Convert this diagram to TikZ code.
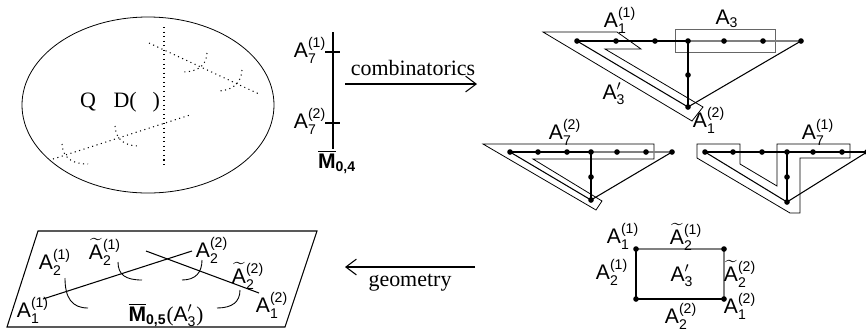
\documentclass[tikz,border=0pt]{standalone}
\usepackage{amsmath}
\usepackage{fontspec}
\setmainfont{Liberation Serif}
\setsansfont{Liberation Sans}
\usetikzlibrary{arrows.meta,positioning,calc}

\newcommand{\lA}[2]{$\textsf{A}_{\textsf{#1}}^{\textsf{#2}}$}
\newcommand{\tA}[2]{${\vphantom{\textsf{A}}\smash{\widetilde{\textsf{A}}}}_{\textsf{#1}}^{\textsf{#2}}$}
\newcommand{\pA}{$\textsf{A}'_{\textsf{3}}$}
\newcommand{\Mbar}[1]{$\overline{\textsf{\textbf{M}}}_{\textsf{\textbf{#1}}}$}

\begin{document}
\begin{tikzpicture}[
    x=0.02cm, y=-0.02cm,
    lab/.style={font=\fontsize{12}{14}\selectfont, inner sep=0pt},
    txt/.style={font=\fontsize{12.5}{14}\selectfont, inner sep=0pt},
    dot/.style={circle, fill, inner sep=0pt, minimum size=3.2pt},
    arrow/.style={-{Straight Barb[length=6pt,width=9pt]}, semithick},
    band/.style={draw, line width=0.45pt, line join=miter},
    edge/.style={line width=0.8pt},
    faint/.style={line width=0.6pt, gray},
    arc/.style={line width=0.5pt},
    dots/.style={dotted, line width=0.6pt},
]
\useasboundingbox (0,0) rectangle (866,332);

% moduli space with the divisor
\draw[line width=0.45pt] (148,105) ellipse [x radius=126, y radius=88];
\node[txt] (qd) at (120,102) {Q\hspace{10pt}D(\hspace{9pt})};
\draw[dots] (164,27) -- (164,165);
\draw[dots] (149,43) -- (259,94);
\draw[dots] (53,159) -- (190,115);
\draw[dots] (207,53) .. controls (206,68) and (195,72) .. (182,72);
\draw[dots] (242,70) .. controls (241,85) and (230,91) .. (217,91);
\draw[dots] (115,126) .. controls (116,140) and (125,146) .. (139,146);
\draw[dots] (62,144) .. controls (63,158) and (72,164) .. (88,164);

% M_{0,4}
\coordinate (m4top) at (333,32);
\coordinate (m4bot) at (333,149);
\coordinate (tk1) at (333,52);
\coordinate (tk2) at (333,123);
\draw[line width=0.6pt] (m4top) -- (m4bot);
\draw[line width=0.6pt] ($(tk1)+(-8,0)$) -- ($(tk1)+(7,0)$);
\draw[line width=0.6pt] ($(tk2)+(-8,0)$) -- ($(tk2)+(7,0)$);
\node[lab] (a71) at (310,50) {\lA{7}{(1)}};
\node[lab] (a72) at (310,121) {\lA{7}{(2)}};
\node[lab] (m04) at (337,162) {\Mbar{0,4}};

% combinatorics arrow
\coordinate (combs) at (345,84);
\coordinate (combe) at (477,84);
\draw[arrow] (combs) -- (combe);
\node[txt] (comb) at (413,68) {combinatorics};

% top tree
\foreach \x [count=\i] in {577,616,655,688,724,763,801}
  \coordinate (t\i) at (\x,41);
\coordinate (tm) at (688,75);
\coordinate (tb) at (688,107);
\draw[band] (543,32) -- (617,32) -- (641,49) -- (605,49) -- (703,107) -- (692,121) -- cycle;
\draw[band, gray!80!black] (675,29) rectangle (775,52);
\draw[edge] (t1) -- (t4);
\draw[faint] (t4) -- (t7);
\draw[edge] (t4) -- (tb);
\draw[line width=0.6pt] (t1) -- (tb);
\draw[line width=0.6pt] (tb) -- (t7);
\foreach \n in {t1,t2,t3,t4,t5,t6,t7,tm,tb}
  \node[dot] at (\n) {};
\node[lab] (ta11) at (620,20) {\lA{1}{(1)}};
\node[lab] (ta3) at (727,19) {$\textsf{A}_{\textsf{3}}$};
\node[lab] (tpa) at (614,94) {\pA};
\node[lab] (ta12) at (709,120) {\lA{1}{(2)}};

% bottom left tree
\foreach \x [count=\i] in {510,538,567,591,617,646,672}
  \coordinate (l\i) at (\x,152);
\coordinate (lm) at (591,177);
\coordinate (lb) at (591,200);
\draw[band] (483,144) -- (654,144) -- (654,159) -- (533,159) -- (602,201) -- (596,210) -- cycle;
\draw[edge] (l1) -- (l4);
\draw[faint] (l4) -- (l7);
\draw[edge] (l4) -- (lb);
\draw[line width=0.6pt] (l1) -- (lb);
\draw[line width=0.6pt] (lb) -- (l7);
\foreach \n in {l1,l2,l3,l4,l5,l6,l7,lm,lb}
  \node[dot] at (\n) {};
\node[lab] (la72) at (565,132) {\lA{7}{(2)}};

% bottom right tree
\foreach \x [count=\i] in {705,733,762,787,813,842,867}
  \coordinate (r\i) at (\x,152);
\coordinate (rm) at (787,177);
\coordinate (rb) at (787,202);
\draw[band] (697,144) -- (740,144) -- (740,164) -- (777,186) -- (777,144) -- (850,144)
  -- (850,158) -- (800,158) -- (800,213) -- (790,213) -- (697,158) -- cycle;
\draw[edge] (r1) -- (r7);
\draw[edge] (r4) -- (rb);
\draw[line width=0.6pt] (r1) -- (rb);
\draw[line width=0.6pt] (rb) -- (r7);
\foreach \n in {r1,r2,r3,r4,r5,r6,r7,rm,rb}
  \node[dot] at (\n) {};
\node[lab] (ra71) at (818,132) {\lA{7}{(1)}};

% geometry arrow
\coordinate (geos) at (475,267);
\coordinate (geoe) at (345,267);
\draw[arrow] (geos) -- (geoe);
\node[txt] (geo) at (410,283) {geometry};

% M_{0,5}(A'_3)
\draw[line width=0.6pt] (38,231) -- (317,231) -- (285,327) -- (7,327) -- cycle;
\draw[line width=0.6pt] (43,299) -- (192,251);
\draw[line width=0.6pt] (146,251) -- (259,293);
\draw[arc] (65,278) .. controls (65,298) and (72,308) .. (88,308);
\draw[arc] (118,262) .. controls (118,275) and (126,280) .. (142,280);
\draw[arc] (182,280) .. controls (196,280) and (202,272) .. (202,260);
\draw[arc] (217,308) .. controls (232,308) and (240,302) .. (240,290);
\node[lab] (pa21) at (55,262) {\lA{2}{(1)}};
\node[lab] (pt21) at (105,252) {\tA{2}{(1)}};
\node[lab] (pa22) at (212,250) {\lA{2}{(2)}};
\node[lab] (pt22) at (248,276) {\tA{2}{(2)}};
\node[lab] (pa11) at (33,310) {\lA{1}{(1)}};
\node[lab] (pa12) at (272,305) {\lA{1}{(2)}};
\node[lab] (m05) at (166,315) {\Mbar{0,5}(\pA)};

% square
\coordinate (q1) at (636,249);
\coordinate (q2) at (724,249);
\coordinate (q3) at (724,299);
\coordinate (q4) at (636,299);
\draw[faint] (q1) -- (q2) -- (q3);
\draw[line width=0.6pt] (q3) -- (q4) -- (q1);
\foreach \n in {q1,q2,q3,q4}
  \node[dot] at (\n) {};
\node[lab] (qa11) at (623,236) {\lA{1}{(1)}};
\node[lab] (qt21) at (686,237) {\tA{2}{(1)}};
\node[lab] (qa21) at (612,272) {\lA{2}{(1)}};
\node[lab] (qpa) at (682,276) {\pA};
\node[lab] (qt22) at (740,274) {\tA{2}{(2)}};
\node[lab] (qa12) at (740,306) {\lA{1}{(2)}};
\node[lab] (qa22) at (681,316) {\lA{2}{(2)}};

\end{tikzpicture}
\end{document}
